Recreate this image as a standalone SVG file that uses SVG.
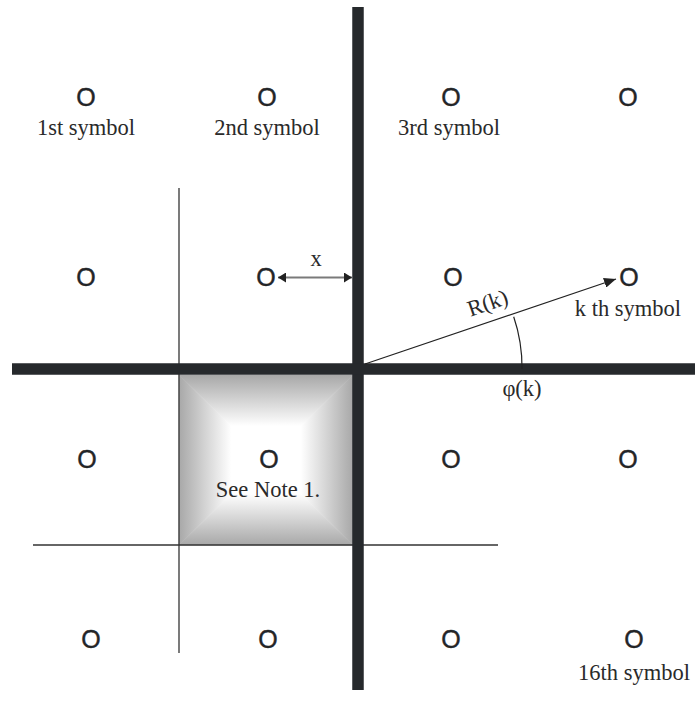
<svg xmlns="http://www.w3.org/2000/svg" width="695" height="718" viewBox="0 0 695 718">
<style>
.sym{font-family:"Liberation Sans",Arial,sans-serif;font-size:25px;fill:#232527;stroke:#232527;stroke-width:0.4;text-anchor:middle}
.lbl{font-family:"Liberation Serif","Times New Roman",serif;font-size:22.5px;fill:#2a2a2a;text-anchor:middle}
.thick{stroke:#26292c;stroke-width:11.5;fill:none}
.thin{stroke:#333;stroke-width:1.3;fill:none}
</style>
<defs>
<linearGradient id="gT" gradientUnits="userSpaceOnUse" x1="0" y1="375" x2="0" y2="460"><stop offset="0" stop-color="#a8a8a8"/><stop offset="0.6" stop-color="#ffffff"/></linearGradient>
<linearGradient id="gB" gradientUnits="userSpaceOnUse" x1="0" y1="545" x2="0" y2="460"><stop offset="0" stop-color="#a8a8a8"/><stop offset="0.6" stop-color="#ffffff"/></linearGradient>
<linearGradient id="gL" gradientUnits="userSpaceOnUse" x1="179" y1="0" x2="266" y2="0"><stop offset="0" stop-color="#a8a8a8"/><stop offset="0.6" stop-color="#ffffff"/></linearGradient>
<linearGradient id="gR" gradientUnits="userSpaceOnUse" x1="353" y1="0" x2="266" y2="0"><stop offset="0" stop-color="#a8a8a8"/><stop offset="0.6" stop-color="#ffffff"/></linearGradient>
<marker id="ah" viewBox="0 0 12 10" refX="12" refY="5" markerWidth="12" markerHeight="10" markerUnits="userSpaceOnUse" orient="auto"><path d="M0,0 L12,5 L0,10 z" fill="#222"/></marker>
<marker id="ahs" viewBox="0 0 8 10" refX="8" refY="5" markerWidth="8" markerHeight="10" markerUnits="userSpaceOnUse" orient="auto-start-reverse"><path d="M0,0 L8,5 L0,10 z" fill="#222"/></marker>
</defs>

<g id="note-area">
<polygon points="179,375 353,375 266,460" fill="url(#gT)" stroke="url(#gT)" stroke-width="0.6"/>
<polygon points="179,545 353,545 266,460" fill="url(#gB)" stroke="url(#gB)" stroke-width="0.6"/>
<polygon points="179,375 179,545 266,460" fill="url(#gL)" stroke="url(#gL)" stroke-width="0.6"/>
<polygon points="353,375 353,545 266,460" fill="url(#gR)" stroke="url(#gR)" stroke-width="0.6"/>
</g>

<g id="connectors">
<line class="thin" x1="179" y1="188" x2="179" y2="653"/>
<line class="thin" x1="33" y1="545" x2="498" y2="545"/>
<line class="thick" x1="358" y1="7" x2="358" y2="690"/>
<line class="thick" x1="12" y1="369" x2="695" y2="369"/>
<line x1="365" y1="364" x2="616" y2="279" stroke="#222" stroke-width="1.2" marker-end="url(#ah)"/>
<path d="M522,369 A157,157 0 0 0 513.7,316.7" fill="none" stroke="#222" stroke-width="1.2"/>
<line x1="278" y1="277.5" x2="352" y2="277.5" stroke="#7a7a7a" stroke-width="2" marker-start="url(#ahs)" marker-end="url(#ahs)"/>
</g>

<g id="row1">
<g id="s1"><text class="sym" x="86" y="105.5">O</text><text class="lbl" x="86" y="135">1st symbol</text></g>
<g id="s2"><text class="sym" x="267" y="105.5">O</text><text class="lbl" x="267" y="135">2nd symbol</text></g>
<g id="s3"><text class="sym" x="451" y="105.5">O</text><text class="lbl" x="449" y="135">3rd symbol</text></g>
<g id="s4"><text class="sym" x="628" y="105.5">O</text></g>
</g>
<g id="row2">
<g id="s5"><text class="sym" x="86" y="286">O</text></g>
<g id="s6"><text class="sym" x="266" y="286">O</text></g>
<g id="s7"><text class="sym" x="453" y="286">O</text></g>
<g id="s8"><text class="sym" x="629" y="286">O</text><text class="lbl" x="628" y="316">k th symbol</text></g>
</g>
<g id="row3">
<g id="s9"><text class="sym" x="87" y="468">O</text></g>
<g id="s10"><text class="sym" x="269" y="468">O</text><text class="lbl" x="268" y="497">See Note 1.</text></g>
<g id="s11"><text class="sym" x="451" y="468">O</text></g>
<g id="s12"><text class="sym" x="628" y="468">O</text></g>
</g>
<g id="row4">
<g id="s13"><text class="sym" x="91" y="648">O</text></g>
<g id="s14"><text class="sym" x="268" y="648">O</text></g>
<g id="s15"><text class="sym" x="451" y="648">O</text></g>
<g id="s16"><text class="sym" x="634" y="648">O</text><text class="lbl" x="634" y="680">16th symbol</text></g>
</g>

<g id="labels">
<text class="lbl" x="316" y="266">x</text>
<text class="lbl" x="522" y="396">φ(k)</text>
<text class="lbl" x="490" y="310" transform="rotate(-19 490 310)">R(k)</text>
</g>
</svg>
